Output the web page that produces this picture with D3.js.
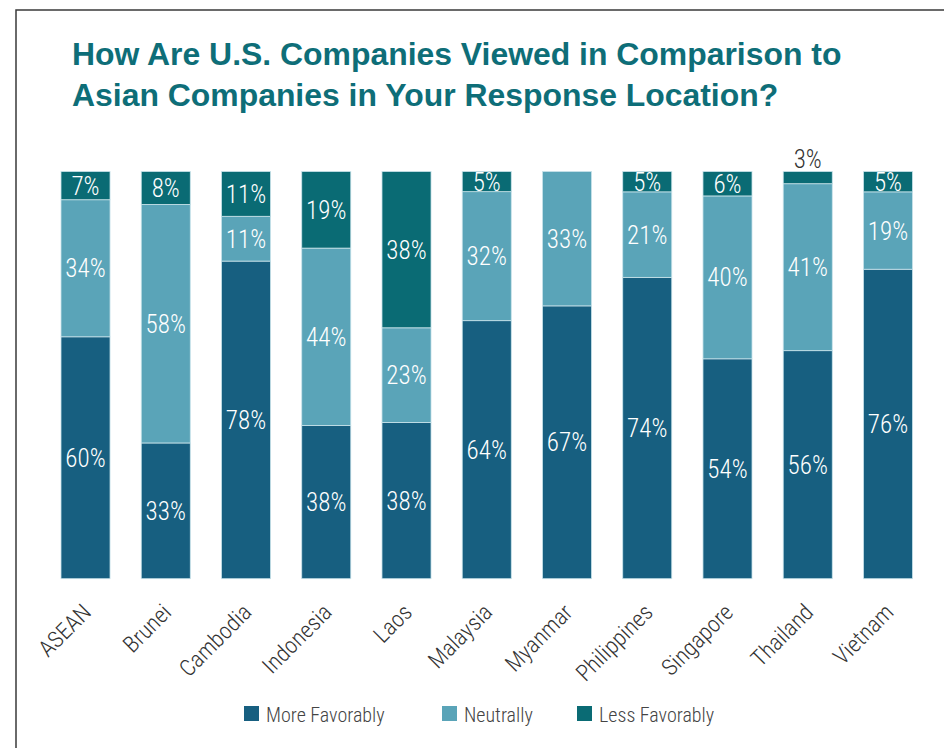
<!DOCTYPE html>
<html><head><meta charset="utf-8">
<script src="https://cdn.jsdelivr.net/npm/d3@7"></script>
<style>
html,body{margin:0;padding:0;background:#fff;}
svg{display:block;}
</style>
</head><body>
<svg id="chart" width="944" height="748"></svg>
<script>
const categories = ["ASEAN","Brunei","Cambodia","Indonesia","Laos","Malaysia","Myanmar","Philippines","Singapore","Thailand","Vietnam"];
const moreFavorably = [60,33,78,38,38,64,67,74,54,56,76];
const neutrally     = [34,58,11,44,23,32,33,21,40,41,19];
const lessFavorably = [7,8,11,19,38,5,0,5,6,3,5];
const seriesNames = ["More Favorably","Neutrally","Less Favorably"];
const seriesColors = ["#175f80","#5aa4b8","#0a6b74"];
const titleLines = ["How Are U.S. Companies Viewed in Comparison to","Asian Companies in Your Response Location?"];

const narrow = "'Liberation Sans Narrow','Arial Narrow','Roboto Condensed',sans-serif";
const svg = d3.select("#chart");

// frame
svg.append("path").attr("d","M16,748 V10 H944").attr("fill","none").attr("stroke","#3a3a3a").attr("stroke-width",1.5);

// title
const title = svg.append("text").attr("x",72).attr("y",65)
  .attr("font-family","'Liberation Sans',Arial,Helvetica,sans-serif").attr("font-weight","bold")
  .attr("font-size",30).attr("fill","#0e6e78");
titleLines.forEach((t,i)=>title.append("tspan").attr("x",72).attr("y",65+i*41).text(t));
const tw = title.select("tspan").node().getComputedTextLength();
title.attr("font-size", 30*770/tw);

const table = categories.map((c,i)=>({cat:c,"More Favorably":moreFavorably[i],"Neutrally":neutrally[i],"Less Favorably":lessFavorably[i]}));
const stack = d3.stack().keys(seriesNames).offset(d3.stackOffsetExpand);
const layers = stack(table);

const x = d3.scaleBand().domain(categories).range([61,912.5]).paddingInner(0.389).paddingOuter(0);
const y = d3.scaleLinear().domain([0,1]).range([578.7,171.5]);
const color = d3.scaleOrdinal().domain(seriesNames).range(seriesColors);

const g = svg.append("g");
layers.forEach(layer=>{
  const key = layer.key;
  layer.forEach((d,i)=>{
    const v = d.data[key];
    if(!v) return;
    const y0 = y(d[0]), y1 = y(d[1]);
    g.append("rect").attr("x",x(d.data.cat)).attr("width",x.bandwidth())
      .attr("y",y1).attr("height",y0-y1).attr("fill",color(key))
      .attr("stroke","#c9e3ea").attr("stroke-width",0.8);
    const h = y0-y1;
    const lbl = g.append("text").attr("x",x(d.data.cat)+x.bandwidth()/2)
      .attr("text-anchor","middle").attr("font-family",narrow).attr("font-weight",300).attr("font-size",25)
      .text(v+"%");
    if(h<15){
      lbl.attr("y",y1-4).attr("fill","#333");
    } else {
      lbl.attr("y",(y0+y1)/2).attr("dy","0.36em").attr("fill","#fff");
    }
  });
});

// x axis labels
const axis = d3.axisBottom(x).tickSize(0).tickPadding(0);
const ax = svg.append("g").attr("transform","translate(0,578.7)").call(axis);
ax.select(".domain").remove();
ax.selectAll("text").attr("font-family",narrow).attr("font-weight",300).attr("font-size",23).attr("fill","#333")
  .attr("text-anchor","end").attr("dy",0).attr("y",0)
  .attr("transform","translate(7,35) rotate(-45)");

// legend
const legX = [244,442,577];
const leg = svg.append("g");
seriesNames.forEach((s,i)=>{
  leg.append("rect").attr("x",legX[i]).attr("y",706).attr("width",15).attr("height",15).attr("fill",color(s));
  leg.append("text").attr("x",legX[i]+22).attr("y",722).attr("font-family",narrow).attr("font-weight",300).attr("font-size",20).attr("fill","#444").text(s);
});
</script>
</body></html>
